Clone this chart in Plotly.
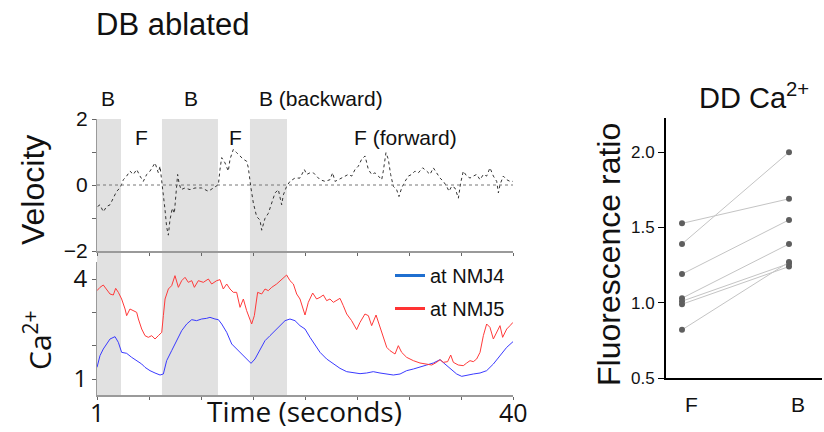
import plotly.graph_objects as go

W, H = 824, 432

# ---------------- data ----------------
vel_t = [1.06,1.28,1.59,1.91,2.22,2.53,2.84,3.16,3.47,3.78,4.09,4.41,4.72,5.03,5.34,5.66,5.97,6.44,6.75,6.91,
         7.07,7.22,7.38,7.53,7.69,7.84,8.06,8.25,8.41,8.56,8.69,8.88,9.25,9.72,10.19,10.81,11.44,11.91,12.38,12.53,
         12.69,13.0,13.31,13.47,13.78,14.09,14.41,14.72,15.03,15.19,15.41,15.66,15.97,16.28,16.44,16.75,17.06,17.38,17.69,18.0,
         18.31,18.47,18.78,19.09,19.56,20.03,20.44,
         20.66,20.97,21.28,21.6,21.91,22.38,22.84,23.09,23.31,23.63,23.94,24.25,24.56,24.88,25.19,25.5,25.81,26.13,26.44,26.75,
         27.06,27.38,27.69,27.84,28.09,28.31,28.53,28.78,29.09,29.31,29.56,29.88,30.19,30.5,30.81,31.13,31.53,31.91,32.22,32.53,
         32.84,33.16,33.47,33.78,34.0,34.25,34.56,34.88,35.09,35.34,35.66,35.97,36.28,36.59,36.91,37.22,37.53,37.84,38.16,38.47,
         38.63,38.78,39.09,39.41,39.72,40.0]
vel_v = [-0.65,-0.60,-0.81,-0.65,-0.60,-0.40,-0.19,-0.09,0.16,0.27,0.42,0.32,0.47,0.27,0.11,0.32,0.42,0.67,0.37,0.57,
         0.16,-0.35,-0.76,-1.27,-1.52,-1.06,-0.70,-0.86,-0.24,0.32,0.06,-0.14,-0.09,-0.14,-0.09,-0.09,-0.19,-0.09,0.01,0.47,
         0.83,0.67,0.42,0.78,1.08,0.98,0.88,0.78,0.72,0.52,-0.04,-0.55,-0.96,-1.06,-1.37,-1.01,-0.86,-0.55,-0.24,-0.14,
         -0.60,-0.30,-0.04,0.11,0.21,0.21,0.47,
         0.32,0.37,0.37,0.27,0.16,0.11,0.16,0.37,0.11,0.16,0.21,0.27,0.32,0.27,0.47,0.57,0.78,0.88,0.47,0.32,
         0.37,0.27,0.16,0.42,0.98,0.78,0.32,-0.04,-0.14,-0.35,-0.09,0.11,0.27,0.32,0.42,0.37,0.52,0.42,0.32,0.52,
         0.37,0.21,0.11,-0.04,-0.19,-0.04,-0.09,-0.40,0.06,0.42,0.27,0.21,0.27,0.32,0.16,0.32,0.27,0.52,0.27,0.11,
         -0.24,0.01,0.27,0.16,0.11,0.11]

nmj5_t = [1.0,1.28,1.59,1.91,2.22,2.53,2.75,3.0,3.31,3.63,3.78,4.09,4.41,4.72,4.88,5.19,5.5,5.81,6.13,6.44,
          6.75,7.07,7.22,7.38,7.69,8.0,8.31,8.63,8.94,9.25,9.56,9.88,10.13,10.5,10.97,11.44,11.75,12.22,12.53,12.84,
          13.16,13.47,13.78,14.09,14.41,14.72,15.03,15.34,15.5,15.75,16.06,16.44,16.75,17.06,17.38,17.84,18.31,18.78,19.09,19.41,
          19.72,20.03,20.5,20.81,21.22,21.59,21.91,22.22,22.53,22.84,23.16,23.47,23.78,24.09,24.41,24.87,25.34,25.66,26.12,26.44,
          26.75,27.16,27.53,27.84,28.16,28.47,28.94,29.25,29.56,30.03,30.66,31.28,31.91,32.38,32.84,33.16,33.47,33.87,34.16,34.41,
          34.87,35.34,35.66,35.97,36.28,36.59,36.91,37.22,37.53,37.84,38.16,38.47,38.78,39.03,39.41,39.72,40.0]
nmj5_ca = [3.65,3.75,3.82,3.70,3.55,3.52,3.72,3.60,3.40,3.10,2.90,3.10,3.05,3.00,2.80,2.50,2.30,2.25,2.30,2.20,
           2.30,2.40,2.90,3.40,3.70,3.80,4.10,3.75,3.95,4.05,3.90,3.95,3.75,3.95,3.90,4.00,3.85,3.95,3.98,3.70,
           3.85,3.70,3.60,3.60,3.15,3.40,3.05,2.75,2.65,2.90,3.60,3.55,3.70,3.65,3.75,3.85,4.00,4.12,3.95,3.85,
           3.55,3.40,2.92,3.30,3.58,3.40,3.45,3.52,3.35,3.40,3.30,3.35,3.42,3.20,2.95,2.75,2.48,2.70,2.95,2.90,
           2.60,2.92,2.55,2.20,1.95,1.85,1.75,2.00,1.80,1.65,1.55,1.48,1.45,1.42,1.50,1.58,1.50,1.52,1.72,1.50,
           1.42,1.40,1.48,1.55,1.52,1.60,1.80,2.30,2.65,2.55,2.20,2.40,2.60,2.25,2.50,2.60,2.70]

nmj4_t = [1.0,1.28,1.59,1.91,2.22,2.69,3.0,3.31,3.78,4.25,4.72,5.19,5.5,5.97,6.44,6.91,7.22,7.53,8.0,8.47,
          8.94,9.41,9.88,10.34,10.81,11.28,11.59,12.06,12.38,12.69,13.16,13.63,14.09,14.56,15.03,15.44,15.81,16.28,16.75,17.22,
          17.69,18.16,18.63,19.09,19.56,20.03,20.5,20.97,21.44,21.91,22.53,23.16,23.78,24.41,25.03,25.66,26.28,26.9,27.53,28.16,
          28.78,29.41,30.03,30.66,31.28,31.91,32.53,33.16,33.62,34.09,34.72,35.19,35.66,36.28,36.91,37.53,38.16,38.78,39.41,40.0]
nmj4_ca = [1.35,1.70,1.90,2.05,2.20,2.27,2.10,1.80,1.77,1.65,1.55,1.45,1.35,1.25,1.18,1.12,1.15,1.55,1.85,2.15,
           2.45,2.65,2.78,2.75,2.80,2.82,2.85,2.80,2.78,2.65,2.40,2.05,1.90,1.75,1.58,1.47,1.60,1.90,2.15,2.30,
           2.45,2.60,2.75,2.80,2.75,2.60,2.50,2.25,2.02,1.80,1.60,1.45,1.32,1.22,1.18,1.16,1.18,1.22,1.18,1.14,
           1.12,1.15,1.25,1.30,1.35,1.42,1.48,1.58,1.45,1.32,1.15,1.08,1.12,1.15,1.18,1.25,1.45,1.70,1.95,2.12]

backward_bouts = [(1.0, 3.25), (7.09, 12.34), (15.34, 18.81)]

time_ticks = [1 + 39 * k / 8 for k in range(9)]
time_end_labels = ["1", "40"]

vel_major_ticks = [-2, 0, 2]
vel_minor_ticks = [-1, 1]
ca_major_ticks = [1, 4]
ca_minor_ticks = [2, 3]

dd_categories = ["F", "B"]
dd_F = [1.527, 1.39, 1.19, 1.03, 1.01, 0.99, 0.82]
dd_B = [1.69, 2.00, 1.55, 1.39, 1.26, 1.24, 1.27]
dd_ticks = [0.5, 1.0, 1.5, 2.0]
dd_ticktext = ["0.5", "1.0", "1.5", "2.0"]

# ---------------- styling helpers ----------------
ARIAL = "Liberation Sans, Arial, sans-serif"
MYRIAD = "Open Sans, sans-serif"
TXT = "#111111"

def fx(px):
    return px / W

def fy(py):
    return 1 - py / H

fig = go.Figure()

fig.add_trace(go.Scatter(x=vel_t, y=vel_v, mode="lines", xaxis="x", yaxis="y",
                         line=dict(color="#333333", width=1, dash="dot"), showlegend=False,
                         hoverinfo="skip"))
fig.add_trace(go.Scatter(x=nmj4_t, y=nmj4_ca, mode="lines", xaxis="x2", yaxis="y2",
                         line=dict(color="#3a3aff", width=1), showlegend=False))
fig.add_trace(go.Scatter(x=nmj5_t, y=nmj5_ca, mode="lines", xaxis="x2", yaxis="y2",
                         line=dict(color="#ff3a3a", width=1), showlegend=False))
fig.add_trace(go.Scatter(x=[None], y=[None], mode="lines", xaxis="x2", yaxis="y2",
                         line=dict(color="#1f6fd0", width=3), name="at NMJ4", legendgroup="a"))
fig.add_trace(go.Scatter(x=[None], y=[None], mode="lines", xaxis="x2", yaxis="y2",
                         line=dict(color="#ff3333", width=3), name="at NMJ5", legendgroup="b"))

for f, b in zip(dd_F, dd_B):
    fig.add_trace(go.Scatter(x=[0, 1], y=[f, b], mode="lines+markers", xaxis="x3", yaxis="y3",
                             line=dict(color="#c4c4c4", width=1),
                             marker=dict(color="#5e5e5e", size=6), showlegend=False))

shapes = []
for x0, x1 in backward_bouts:
    shapes.append(dict(type="rect", xref="x", yref="paper", x0=x0, x1=x1,
                       y0=fy(395), y1=fy(119), fillcolor="#e1e1e1", line=dict(width=0),
                       layer="below"))
shapes.append(dict(type="line", xref="x domain", yref="y", x0=0, x1=1, y0=0, y1=0,
                   line=dict(color="#777777", width=1, dash="dot")))

annotations = []
def ann(text, x, y, size, family=ARIAL, angle=0, xanchor="center"):
    annotations.append(dict(text=text, x=fx(x), y=fy(y), xref="paper", yref="paper",
                            showarrow=False, textangle=angle, xanchor=xanchor, yanchor="middle",
                            font=dict(family=family, size=size, color=TXT)))

ann("DB ablated", 94, 25, 31, xanchor="left")
ann("B", 108, 99, 21)
ann("B", 191, 99, 21)
ann("B (backward)", 321, 99, 21)
ann("F", 141, 137, 21)
ann("F", 235, 137, 21)
ann("F (forward)", 405, 137, 21)
ann("Velocity", 33, 190, 32, angle=-90)
ann("Ca<sup>2+</sup>", 38, 340, 30, family=MYRIAD, angle=-90)
ann("Time (seconds)", 304, 411, 28, family=MYRIAD)
ann("DD Ca<sup>2+</sup>", 754, 96, 29)
ann("Fluorescence ratio", 609, 255, 32, angle=-90)
for lbl, tv in zip(time_end_labels, [time_ticks[0], time_ticks[-1]]):
    annotations.append(dict(text=lbl, x=tv, y=fy(412), xref="x2", yref="paper",
                            showarrow=False, xanchor="center", yanchor="middle",
                            font=dict(family=MYRIAD, size=25, color=TXT)))
for cat, xs in zip(dd_categories, [0, 1]):
    annotations.append(dict(text=cat, x=xs, y=fy(404), xref="x3", yref="paper", xshift=9,
                            showarrow=False, xanchor="center", yanchor="middle",
                            font=dict(family=ARIAL, size=21, color=TXT)))

common = dict(showgrid=False, zeroline=False, automargin=False)

fig.update_layout(
    template="none",
    width=W, height=H, autosize=False,
    margin=dict(l=0, r=0, t=0, b=0, pad=0, autoexpand=False),
    paper_bgcolor="white", plot_bgcolor="rgba(0,0,0,0)",
    shapes=shapes, annotations=annotations,
    legend=dict(x=fx(390), y=fy(256), xanchor="left", yanchor="top",
                font=dict(family=ARIAL, size=20, color=TXT), bgcolor="rgba(0,0,0,0)",
                tracegroupgap=4),
    xaxis=dict(domain=[fx(97), fx(513)], range=[1, 40], anchor="y",
               showline=True, linecolor="#9a9a9a", linewidth=2, ticks="outside",
               ticklen=3, tickcolor="#666", tickvals=time_ticks, showticklabels=False, **common),
    yaxis=dict(domain=[fy(251), fy(119)], range=[-2, 2], anchor="x",
               showline=True, linecolor="#9a9a9a", linewidth=1, ticks="outside",
               ticklen=4, tickcolor="#666", tickvals=vel_major_ticks,
               minor=dict(tickvals=vel_minor_ticks, ticks="outside", ticklen=4,
                          tickcolor="#666", showgrid=False),
               tickfont=dict(family=ARIAL, size=21, color=TXT), **common),
    xaxis2=dict(domain=[fx(97), fx(513)], range=[1, 40], anchor="y2",
                showline=True, linecolor="#9a9a9a", linewidth=2, ticks="outside",
                ticklen=3, tickcolor="#666", tickvals=time_ticks, showticklabels=False, **common),
    yaxis2=dict(domain=[fy(395), fy(262)], range=[1 - 16 / 33.33, 4 + 17 / 33.33], anchor="x2",
                showline=True, linecolor="#9a9a9a", linewidth=1, ticks="outside",
                ticklen=4, tickcolor="#666", tickvals=ca_major_ticks,
                minor=dict(tickvals=ca_minor_ticks, ticks="outside", ticklen=4,
                           tickcolor="#666", showgrid=False),
                tickfont=dict(family=MYRIAD, size=24, color=TXT), **common),
    xaxis3=dict(domain=[fx(666), fx(822)], range=[-16 / 107, 1 + 33 / 107], anchor="y3",
                showline=True, linecolor="black", linewidth=2, ticks="",
                showticklabels=False, **common),
    yaxis3=dict(domain=[fy(378), fy(118)], range=[0.5, 2.0 + 34 / 150], anchor="x3",
                showline=True, linecolor="black", linewidth=2, ticks="outside",
                ticklen=6, tickcolor="black", tickvals=dd_ticks, ticktext=dd_ticktext,
                tickfont=dict(family=ARIAL, size=17, color=TXT), **common),
)

fig.write_html("out.html", config={"responsive": False})
